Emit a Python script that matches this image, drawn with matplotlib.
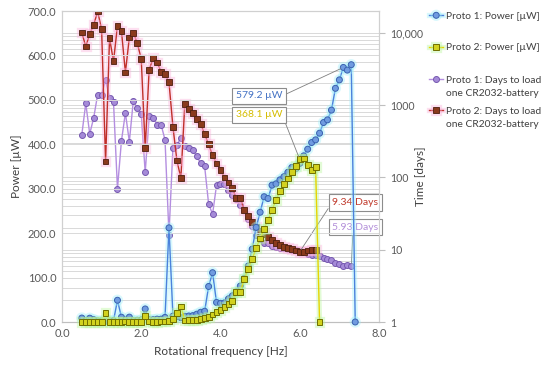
import matplotlib
matplotlib.use("Agg")
import matplotlib.pyplot as plt
import matplotlib.patheffects as pe
from matplotlib.legend_handler import HandlerLine2D
from matplotlib.ticker import FixedLocator, FixedFormatter, FormatStrFormatter, LogLocator, NullFormatter

plt.rcParams["font.family"] = ["Lato", "DejaVu Sans"]

# rotational frequency [Hz]
freq = [0.5, 0.6, 0.7, 0.8, 0.9, 1.0, 1.1, 1.2, 1.3, 1.4,
        1.5, 1.6, 1.7, 1.8, 1.9, 2.0, 2.1, 2.2, 2.3, 2.4,
        2.5, 2.6, 2.7, 2.8, 2.9, 3.0, 3.1, 3.2, 3.3, 3.4,
        3.5, 3.6, 3.7, 3.8, 3.9, 4.0, 4.1, 4.2, 4.3, 4.4,
        4.5, 4.6, 4.7, 4.8, 4.9, 5.0, 5.1, 5.2, 5.3, 5.4,
        5.5, 5.6, 5.7, 5.8, 5.9, 6.0, 6.1, 6.2, 6.3, 6.4,
        6.5, 6.6, 6.7, 6.8, 6.9, 7.0, 7.1, 7.2, 7.3, 7.4]

# Proto 1 power [uW], 0.5 .. 7.4 Hz
power1 = [8.9, 3.2, 8.6, 5.2, 2.5, 2.5, 1.6, 2.7, 3.1, 49,
          10.8, 4.4, 11, 3.0, 3.8, 4.5, 29.4, 4.9, 5.2, 6.4,
          6.4, 10.4, 212, 13.3, 12.2, 9.8, 12.8, 13.5, 14.3, 17.6,
          21.9, 24.2, 80, 111, 44, 42, 43, 52, 59, 68,
          81, 98, 126, 164, 213, 247, 282, 278, 308, 311,
          320, 327, 337, 348, 345, 357, 374, 389, 404, 410,
          425, 449, 455, 477, 526, 545, 573, 567, 579.2, 0]

# Proto 2 power [uW], 0.5 .. 6.5 Hz
power2 = [0.34, 0.53, 0.36, 0.27, 0.17, 0.31, 20.7, 0.41, 0.85, 0.27,
          0.32, 1.21, 0.40, 0.35, 0.48, 0.79, 13.5, 1.11, 0.78, 0.88,
          1.18, 1.28, 1.67, 6.9, 20.1, 35, 3.3, 3.9, 4.5, 5.3,
          6.2, 8.6, 12, 17, 22, 27, 34.5, 40.5, 48, 67,
          67, 97, 119, 142, 166, 188, 210, 230, 252, 274,
          294, 311, 323, 338, 352, 366, 368.1, 353, 343, 348,
          0]

# Proto 1 days to load one CR2032, 0.5 .. 7.3 Hz
days1 = [388, 1059, 400, 666, 1400, 1400, 2200, 1270, 1100, 70,
         318, 780, 312, 1153, 900, 756, 117, 698, 666, 538,
         538, 331, 16.2, 258, 282, 352, 268, 254, 241, 195,
         157, 142, 43, 31, 78, 82, 80, 66, 58, 50,
         42, 35, 27, 21, 16.1, 13.9, 12.2, 12.4, 11.2, 11.0,
         10.7, 10.5, 10.2, 9.9, 10.0, 9.6, 9.2, 8.8, 8.5, 8.4,
         8.1, 7.65, 7.55, 7.2, 6.5, 6.3, 6.0, 6.06, 5.93]

# Proto 2 days to load one CR2032, 0.5 .. 6.4 Hz
days2 = [10100, 6470, 9600, 12900, 19700, 11200, 166, 8450, 4020, 12500,
         10660, 2830, 8610, 9890, 7210, 4340, 254, 3090, 4430, 3890,
         2900, 2690, 2060, 500, 171, 98, 1040, 886, 771, 645,
         550, 398, 286, 202, 156, 127, 99.6, 84.8, 71.6, 51.3,
         51.3, 35.4, 28.9, 24.2, 20.7, 18.3, 16.4, 14.9, 13.6, 12.5,
         11.7, 11.0, 10.6, 10.2, 9.76, 9.39, 9.34, 9.73, 10.0, 9.87]

series_names = ["Proto 1: Power [µW]", "Proto 2: Power [µW]",
                "Proto 1: Days to load\none CR2032-battery",
                "Proto 2: Days to load\none CR2032-battery"]

right_ticks = [1, 10, 100, 1000, 10000]
right_labels = ["1", "10", "100", "1000", "10,000"]

fig = plt.figure(figsize=(5.5, 3.65), dpi=100)
ax = fig.add_axes([0.1127, 0.1178, 0.5764, 0.852])
ax2 = ax.twinx()
ax.set_zorder(ax2.get_zorder() + 1)
ax.patch.set_visible(False)

grid_c = "#d9d9d9"
tick_c = "#595959"

def glow(c):
    return [pe.Stroke(linewidth=3.8, foreground=c, alpha=0.4), pe.Normal()]

n1 = len(power1)
n2 = len(power2)
l_p1, = ax.plot(freq[:n1], power1, color="#4a82dc", lw=1.0, marker="o", ms=4.3,
                mfc="#6f9be0", mec="#3a62b0", mew=0.7, clip_on=False,
                path_effects=glow("#9eeefa"), zorder=3)
l_p2, = ax.plot(freq[:n2], power2, color="#e6d600", lw=1.0, marker="s", ms=4.2,
                mfc="#d2d21e", mec="#6f6f00", mew=0.7, clip_on=False,
                path_effects=glow("#b8f59a"), zorder=4)
l_d1, = ax2.plot(freq[:len(days1)], days1, color="#b48ee0", lw=1.0, marker="o", ms=4.3,
                 mfc="#a58bd8", mec="#7658b0", mew=0.7, zorder=3)
l_d2, = ax2.plot(freq[:len(days2)], days2, color="#c0302a", lw=1.0, marker="s", ms=4.2,
                 mfc="#8a3a1c", mec="#4e2010", mew=0.6,
                 path_effects=glow("#fbb0da"), zorder=4)

# axes ranges and ticks
ax.set_xlim(0, 8)
ax.set_ylim(0, 700)
ax.xaxis.set_major_locator(FixedLocator([0, 2, 4, 6, 8]))
ax.xaxis.set_major_formatter(FormatStrFormatter("%.1f"))
ax.yaxis.set_major_locator(FixedLocator(range(0, 701, 100)))
ax.yaxis.set_major_formatter(FormatStrFormatter("%.1f"))
ax.tick_params(axis="both", length=0, labelsize=8, colors=tick_c, pad=4)
ax.grid(axis="y", color=grid_c, lw=0.7)

ax2.set_yscale("log")
ax2.set_ylim(1, 20000)
ax2.yaxis.set_major_locator(FixedLocator(right_ticks))
ax2.yaxis.set_major_formatter(FixedFormatter(right_labels))
ax2.yaxis.set_minor_locator(LogLocator(base=10, subs=range(2, 10)))
ax2.yaxis.set_minor_formatter(NullFormatter())
ax2.tick_params(axis="y", which="major", length=4, color="#bfbfbf", labelsize=7.6,
                labelcolor=tick_c, pad=4)
ax2.tick_params(axis="y", which="minor", length=0)
ax2.grid(axis="y", which="both", color=grid_c, lw=0.7)

for a in (ax, ax2):
    for s in a.spines.values():
        s.set_color("#d0d0d0")
        s.set_linewidth(0.8)
ax.spines["bottom"].set_color("#bfbfbf")

ax.set_xlabel("Rotational frequency [Hz]", fontsize=8.5, color="#404040", labelpad=5)
ax.set_ylabel("Power [µW]", fontsize=8.5, color="#404040", labelpad=4)
ax2.set_ylabel("Time [days]", fontsize=8.5, color="#404040")
ax2.yaxis.set_label_coords(1.115, 0.47)

# data labels
box = dict(boxstyle="square,pad=0.35", fc="white", ec="#8c8c8c", lw=0.8)
leader = dict(arrowstyle="-", color="#7f7f7f", lw=0.6, shrinkA=0, shrinkB=2)
i_p1 = freq.index(7.1)
ax.annotate("579.2 µW", xy=(freq[i_p1], power1[i_p1]), xytext=(4.97, 509),
            ha="center", va="center", fontsize=7.5, color="#4472c4", bbox=box,
            arrowprops=dict(leader, relpos=(1, 0.5)), zorder=6)
i_p2 = freq.index(6.0)
ax.annotate("368.1 µW", xy=(freq[i_p2], power2[i_p2]), xytext=(4.97, 466),
            ha="center", va="center", fontsize=7.5, color="#d4bc00", bbox=box,
            arrowprops=dict(leader, relpos=(1, 0.5)), zorder=6)
ax2.annotate("9.34 Days", xy=(freq[i_p2], days2[i_p2]), xytext=(7.4, 45),
             ha="center", va="center", fontsize=7.5, color="#c0392b", bbox=box,
             arrowprops=dict(leader, relpos=(0, 0.5)), annotation_clip=False, zorder=6)
i_d1 = len(days1) - 1
ax2.annotate("5.93 Days", xy=(freq[i_d1], days1[i_d1]), xytext=(7.4, 20.4),
             ha="center", va="center", fontsize=7.5, color="#b38fd9", bbox=box,
             arrowprops=dict(leader, relpos=(0.45, 0)), annotation_clip=False, zorder=6)


class FirstLineHandler(HandlerLine2D):
    def __init__(self, shift=0, **kw):
        super().__init__(**kw)
        self.shift = shift

    def create_artists(self, legend, orig_handle, xdescent, ydescent, width, height,
                       fontsize, trans):
        arts = super().create_artists(legend, orig_handle, xdescent, ydescent, width,
                                      height, fontsize, trans)
        for a in arts:
            yd = a.get_ydata()
            a.set_ydata([y + self.shift * fontsize for y in yd])
        return arts


# one legend block per entry so the rows sit where the reference has them
handles = [l_p1, l_p2, l_d1, l_d2]
first_line_px = [14.7, 46, 79, 110]
for h, name, cy in zip(handles, series_names, first_line_px):
    two_lines = "\n" in name
    hmap = {h: FirstLineHandler(shift=0.8 if two_lines else 0)}
    lg = fig.legend([h], [name], loc="upper left",
                    bbox_to_anchor=(0.78, (365 - (cy - 3)) / 365),
                    frameon=False, fontsize=7.4, handlelength=1.4, handletextpad=0.25,
                    borderaxespad=0, borderpad=0, handler_map=hmap)
    for t in lg.get_texts():
        t.set_color("#404040")
        t.set_linespacing(1.6)

fig.savefig("out.png", dpi=100)
